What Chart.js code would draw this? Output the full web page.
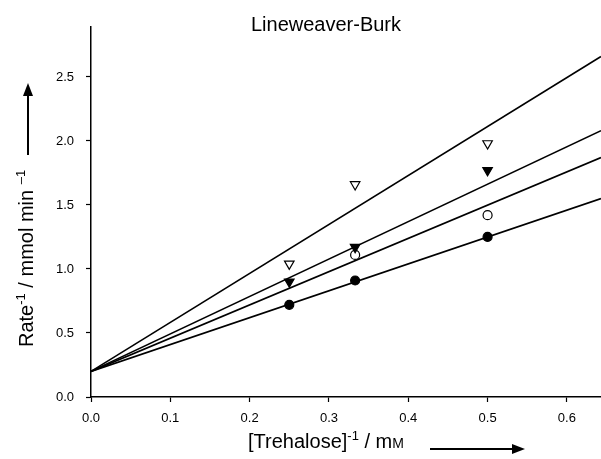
<!DOCTYPE html>
<html>
<head>
<meta charset="utf-8">
<script src="https://cdn.jsdelivr.net/npm/chart.js@4/dist/chart.umd.min.js"></script>
<style>
  html, body { margin: 0; padding: 0; background: #fff; }
  #wrap { width: 601px; height: 459px; position: relative; }
</style>
</head>
<body>
<div id="wrap"><canvas id="lb_chart" width="601" height="459"></canvas></div>
<script>
// inverse trehalose concentration (1/mM)
const inv_conc = [0.25, 0.333, 0.5];

// measured 1/rate for each series (null = hidden under another marker)
const filled_circles = [0.72, 0.91, 1.25];
const open_circles = [null, 1.11, 1.42];
const filled_triangles = [0.90, 1.17, 1.77];
const open_triangles = [1.04, 1.66, 1.98];

// fitted lines: shared intercept at x = 0, value at right edge of the plot
const line_x = [0, 0.643];
const line_start = 0.2;
const line_ends = [2.66, 2.08, 1.87, 1.55];

const x_ticks = [0, 0.1, 0.2, 0.3, 0.4, 0.5, 0.6];
const y_ticks = [0, 0.5, 1.0, 1.5, 2.0, 2.5];

const font_name = "'Liberation Sans', Arial, sans-serif";

function toPoints(ys) {
  return ys.map((y, i) => ({ x: inv_conc[i], y: y }));
}

let point_sets = [
  { data: toPoints(filled_circles), pointStyle: 'circle', pointBackgroundColor: '#000', pointRotation: 0, pointRadius: 4.5 },
  { data: toPoints(filled_triangles), pointStyle: 'triangle', pointBackgroundColor: '#000', pointRotation: 180, pointRadius: 5.5 },
  { data: toPoints(open_circles), pointStyle: 'circle', pointBackgroundColor: '#fff', pointRotation: 0, pointRadius: 4.5 },
  { data: toPoints(open_triangles), pointStyle: 'triangle', pointBackgroundColor: '#fff', pointRotation: 180, pointRadius: 5.5 },
].map(s => Object.assign({
  showLine: false,
  pointBorderColor: '#000',
  pointBorderWidth: 1.2,
}, s));

let line_sets = line_ends.map(end => ({
  data: [{ x: line_x[0], y: line_start }, { x: line_x[1], y: end }],
  showLine: true,
  borderColor: '#000',
  borderWidth: 1.6,
  pointRadius: 0,
  fill: false,
}));

// titles and arrows drawn by hand so superscripts and small caps fit
const titlesPlugin = {
  id: 'titles',
  afterDraw(chart) {
    const c = chart.ctx;
    c.save();
    c.fillStyle = '#000';
    c.strokeStyle = '#000';

    c.font = `20px ${font_name}`;
    c.textAlign = 'center';
    c.textBaseline = 'alphabetic';
    c.fillText('Lineweaver-Burk', 326, 31);

    // x axis title
    c.textAlign = 'left';
    let x = 248, y = 448;
    const part = (txt, size, dy) => {
      c.font = `${size}px ${font_name}`;
      c.fillText(txt, x, y + dy);
      x += c.measureText(txt).width;
    };
    part('[Trehalose]', 20, 0);
    part('-1', 13, -8);
    part(' / m', 20, 0);
    part('M', 14, 0);

    // x arrow
    c.lineWidth = 2;
    c.beginPath(); c.moveTo(430, 449); c.lineTo(516, 449); c.stroke();
    c.beginPath(); c.moveTo(525, 449); c.lineTo(512, 444); c.lineTo(512, 454); c.closePath(); c.fill();

    // y axis title, rotated
    c.translate(33, 347);
    c.rotate(-Math.PI / 2);
    x = 0; y = 0;
    part('Rate', 20, 0);
    part('-1', 13, -8);
    part(' / mmol min ', 20, 0);
    part('\u2013', 13, -8);
    part('1', 13, -8);
    c.setTransform(1, 0, 0, 1, 0, 0);

    // y arrow
    c.lineWidth = 2;
    c.beginPath(); c.moveTo(28, 155); c.lineTo(28, 93); c.stroke();
    c.beginPath(); c.moveTo(28, 83); c.lineTo(23, 96); c.lineTo(33, 96); c.closePath(); c.fill();
    c.restore();
  }
};

const ctx = document.getElementById('lb_chart').getContext('2d');
let my_chart = new Chart(ctx, {
  type: 'scatter',
  data: { datasets: point_sets.concat(line_sets) },
  options: {
    responsive: false,
    animation: false,
    layout: { autoPadding: false, padding: { top: 27, right: 0, left: 0, bottom: 0 } },
    plugins: { legend: { display: false }, tooltip: { enabled: false }, title: { display: false } },
    scales: {
      x: {
        type: 'linear',
        min: 0,
        max: 0.643,
        afterBuildTicks: (axis) => { axis.ticks = x_ticks.map(v => ({ value: v })); },
        afterFit: (axis) => {
          axis.height = 62;
          axis.paddingLeft = 0; axis.paddingRight = 0;
        },
        border: { color: '#000', width: 1.5 },
        grid: { drawOnChartArea: false, drawTicks: true, tickLength: 5, color: '#000', tickWidth: 1.2 },
        ticks: {
          color: '#000',
          padding: 9,
          font: { family: font_name, size: 13 },
          callback: (v) => Number(v).toFixed(1),
          maxRotation: 0,
        },
      },
      y: {
        type: 'linear',
        min: 0,
        max: 2.89,
        afterBuildTicks: (axis) => { axis.ticks = y_ticks.map(v => ({ value: v })); },
        afterFit: (axis) => {
          axis.width = 91;
          axis.paddingTop = 0; axis.paddingBottom = 0;
        },
        border: { color: '#000', width: 1.5 },
        grid: { drawOnChartArea: false, drawTicks: true, tickLength: 5, color: '#000', tickWidth: 1.2 },
        ticks: {
          color: '#000',
          padding: 12,
          font: { family: font_name, size: 13 },
          callback: (v) => Number(v).toFixed(1),
        },
      },
    },
  },
  plugins: [titlesPlugin],
});
</script>
</body>
</html>
